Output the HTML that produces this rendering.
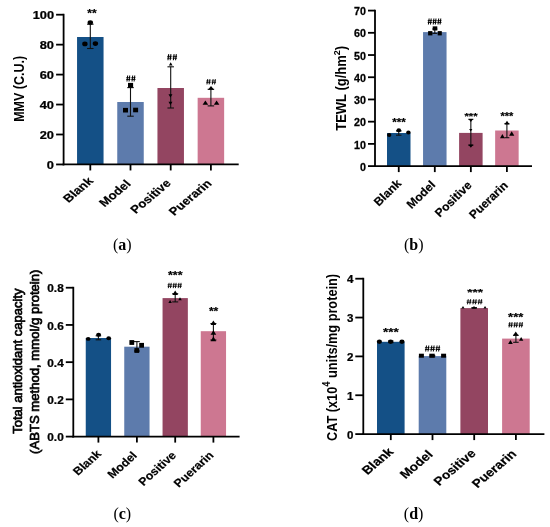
<!DOCTYPE html>
<html><head><meta charset="utf-8"><style>
html,body{margin:0;padding:0;background:#fff;}
body{width:550px;height:527px;overflow:hidden;}
svg{display:block;font-family:"Liberation Sans", sans-serif;will-change:transform;filter:blur(0.35px);}
</style></head><body>
<svg width="550" height="527" viewBox="0 0 550 527">
<rect width="550" height="527" fill="#fff"/>
<rect x="77.05" y="37.00" width="26.50" height="127.45" fill="#145086"/>
<rect x="117.25" y="102.00" width="26.50" height="62.45" fill="#5d7bac"/>
<rect x="157.45" y="88.00" width="26.50" height="76.45" fill="#934561"/>
<rect x="197.65" y="97.80" width="26.50" height="66.65" fill="#cd7791"/>
<line x1="63.6" y1="13.80" x2="63.6" y2="165.35" stroke="#000" stroke-width="1.8"/>
<line x1="56.10" y1="164.45" x2="63.6" y2="164.45" stroke="#000" stroke-width="1.8"/>
<text transform="translate(54.00,169.12) scale(1.22,1)" text-anchor="end" font-size="10.5" font-weight="bold" stroke="#000" stroke-width="0.25">0</text>
<line x1="56.10" y1="134.50" x2="63.6" y2="134.50" stroke="#000" stroke-width="1.8"/>
<text transform="translate(54.00,139.18) scale(1.22,1)" text-anchor="end" font-size="10.5" font-weight="bold" stroke="#000" stroke-width="0.25">20</text>
<line x1="56.10" y1="104.55" x2="63.6" y2="104.55" stroke="#000" stroke-width="1.8"/>
<text transform="translate(54.00,109.22) scale(1.22,1)" text-anchor="end" font-size="10.5" font-weight="bold" stroke="#000" stroke-width="0.25">40</text>
<line x1="56.10" y1="74.60" x2="63.6" y2="74.60" stroke="#000" stroke-width="1.8"/>
<text transform="translate(54.00,79.27) scale(1.22,1)" text-anchor="end" font-size="10.5" font-weight="bold" stroke="#000" stroke-width="0.25">60</text>
<line x1="56.10" y1="44.65" x2="63.6" y2="44.65" stroke="#000" stroke-width="1.8"/>
<text transform="translate(54.00,49.32) scale(1.22,1)" text-anchor="end" font-size="10.5" font-weight="bold" stroke="#000" stroke-width="0.25">80</text>
<line x1="56.10" y1="14.70" x2="63.6" y2="14.70" stroke="#000" stroke-width="1.8"/>
<text transform="translate(54.00,19.37) scale(1.22,1)" text-anchor="end" font-size="10.5" font-weight="bold" stroke="#000" stroke-width="0.25">100</text>
<line x1="62.70" y1="164.45" x2="238.7" y2="164.45" stroke="#000" stroke-width="1.8"/>
<line x1="90.30" y1="164.45" x2="90.30" y2="170.45" stroke="#000" stroke-width="1.8"/>
<line x1="130.50" y1="164.45" x2="130.50" y2="170.45" stroke="#000" stroke-width="1.8"/>
<line x1="170.70" y1="164.45" x2="170.70" y2="170.45" stroke="#000" stroke-width="1.8"/>
<line x1="210.90" y1="164.45" x2="210.90" y2="170.45" stroke="#000" stroke-width="1.8"/>
<line x1="90.30" y1="24.20" x2="90.30" y2="48.50" stroke="#111" stroke-width="1.1"/>
<line x1="87.05" y1="48.50" x2="93.55" y2="48.50" stroke="#111" stroke-width="1.1"/>
<line x1="87.05" y1="24.20" x2="93.55" y2="24.20" stroke="#111" stroke-width="1.1"/>
<ellipse cx="90.30" cy="22.50" rx="2.7" ry="2.3" fill="#000"/>
<ellipse cx="84.90" cy="43.90" rx="2.7" ry="2.3" fill="#000"/>
<ellipse cx="95.40" cy="43.60" rx="2.7" ry="2.3" fill="#000"/>
<text transform="translate(91.97,17.21) scale(1.140,1)" text-anchor="middle" font-size="10.48" font-weight="bold" stroke="#000" stroke-width="0.2">**</text>
<line x1="130.50" y1="87.60" x2="130.50" y2="116.20" stroke="#111" stroke-width="1.1"/>
<line x1="127.25" y1="116.20" x2="133.75" y2="116.20" stroke="#111" stroke-width="1.1"/>
<line x1="127.25" y1="87.60" x2="133.75" y2="87.60" stroke="#111" stroke-width="1.1"/>
<rect x="128.00" y="82.90" width="5.1" height="4.8" fill="#000"/>
<rect x="123.00" y="107.90" width="5.0" height="4.6" fill="#000"/>
<rect x="133.10" y="107.70" width="5.0" height="4.6" fill="#000"/>
<path d="M126.96,81.55L127.68,75.55M129.03,81.55L129.75,75.55M132.00,81.55L132.72,75.55M134.07,81.55L134.79,75.55" stroke="#000" stroke-width="1.02" fill="none"/>
<path d="M126.28,77.71H130.42M126.28,79.51H130.42M131.33,77.71H135.47M131.33,79.51H135.47" stroke="#000" stroke-width="0.90" fill="none"/>
<line x1="170.70" y1="66.80" x2="170.70" y2="108.00" stroke="#111" stroke-width="1.1"/>
<line x1="167.45" y1="108.00" x2="173.95" y2="108.00" stroke="#111" stroke-width="1.1"/>
<line x1="167.45" y1="66.80" x2="173.95" y2="66.80" stroke="#111" stroke-width="1.1"/>
<polygon points="168.90,65.50 172.50,65.50 170.70,62.30" fill="#000"/>
<polygon points="168.45,94.25 172.45,94.25 170.45,97.55" fill="#000"/>
<polygon points="168.45,101.65 172.45,101.65 170.45,104.95" fill="#000"/>
<path d="M167.96,60.25L168.73,54.15M170.18,60.25L170.95,54.15M173.35,60.25L174.12,54.15M175.57,60.25L176.34,54.15" stroke="#000" stroke-width="1.04" fill="none"/>
<path d="M167.24,56.35H171.67M167.24,58.18H171.67M172.63,56.35H177.06M172.63,58.18H177.06" stroke="#000" stroke-width="0.92" fill="none"/>
<line x1="210.90" y1="89.30" x2="210.90" y2="105.90" stroke="#111" stroke-width="1.1"/>
<line x1="207.65" y1="105.90" x2="214.15" y2="105.90" stroke="#111" stroke-width="1.1"/>
<line x1="207.65" y1="89.30" x2="214.15" y2="89.30" stroke="#111" stroke-width="1.1"/>
<polygon points="208.00,89.70 214.00,89.70 211.00,85.90" fill="#000"/>
<polygon points="202.60,104.70 208.20,104.70 205.40,100.50" fill="#000"/>
<polygon points="213.80,104.70 219.40,104.70 216.60,100.50" fill="#000"/>
<path d="M206.96,84.45L207.73,79.05M209.18,84.45L209.95,79.05M212.35,84.45L213.12,79.05M214.57,84.45L215.34,79.05" stroke="#000" stroke-width="0.92" fill="none"/>
<path d="M206.24,80.99H210.67M206.24,82.61H210.67M211.63,80.99H216.06M211.63,82.61H216.06" stroke="#000" stroke-width="0.81" fill="none"/>
<text transform="translate(94.00,181.70) scale(1.185,1) rotate(-45)" text-anchor="end" font-size="11.2" font-weight="bold" stroke="#000" stroke-width="0.2">Blank</text>
<text transform="translate(131.50,184.60) scale(1.185,1) rotate(-45)" text-anchor="end" font-size="11.2" font-weight="bold" stroke="#000" stroke-width="0.2">Model</text>
<text transform="translate(171.80,183.90) scale(1.185,1) rotate(-45)" text-anchor="end" font-size="11.2" font-weight="bold" stroke="#000" stroke-width="0.2">Positive</text>
<text transform="translate(212.40,184.10) scale(1.185,1) rotate(-45)" text-anchor="end" font-size="11.2" font-weight="bold" stroke="#000" stroke-width="0.2">Puerarin</text>
<text transform="translate(23.90,88.85) scale(1.12,1) rotate(-90)" text-anchor="middle" font-size="12.5" font-weight="bold">MMV (C.U.)</text>
<text x="122.30" y="249.70" text-anchor="middle" font-family='"Liberation Serif", serif' font-size="16">(<tspan font-weight="bold">a</tspan>)</text>
<rect x="387.00" y="133.00" width="23.50" height="33.10" fill="#145086"/>
<rect x="423.05" y="32.10" width="23.50" height="134.00" fill="#5d7bac"/>
<rect x="459.10" y="132.90" width="23.50" height="33.20" fill="#934561"/>
<rect x="495.15" y="130.50" width="23.50" height="35.60" fill="#cd7791"/>
<line x1="375.0" y1="9.69" x2="375.0" y2="167.00" stroke="#000" stroke-width="1.8"/>
<line x1="368.00" y1="166.10" x2="375.0" y2="166.10" stroke="#000" stroke-width="1.8"/>
<text transform="translate(365.90,170.78) scale(1.02,1)" text-anchor="end" font-size="10.5" font-weight="bold" stroke="#000" stroke-width="0.25">0</text>
<line x1="368.00" y1="143.88" x2="375.0" y2="143.88" stroke="#000" stroke-width="1.8"/>
<text transform="translate(365.90,148.56) scale(1.02,1)" text-anchor="end" font-size="10.5" font-weight="bold" stroke="#000" stroke-width="0.25">10</text>
<line x1="368.00" y1="121.67" x2="375.0" y2="121.67" stroke="#000" stroke-width="1.8"/>
<text transform="translate(365.90,126.34) scale(1.02,1)" text-anchor="end" font-size="10.5" font-weight="bold" stroke="#000" stroke-width="0.25">20</text>
<line x1="368.00" y1="99.45" x2="375.0" y2="99.45" stroke="#000" stroke-width="1.8"/>
<text transform="translate(365.90,104.13) scale(1.02,1)" text-anchor="end" font-size="10.5" font-weight="bold" stroke="#000" stroke-width="0.25">30</text>
<line x1="368.00" y1="77.24" x2="375.0" y2="77.24" stroke="#000" stroke-width="1.8"/>
<text transform="translate(365.90,81.92) scale(1.02,1)" text-anchor="end" font-size="10.5" font-weight="bold" stroke="#000" stroke-width="0.25">40</text>
<line x1="368.00" y1="55.03" x2="375.0" y2="55.03" stroke="#000" stroke-width="1.8"/>
<text transform="translate(365.90,59.70) scale(1.02,1)" text-anchor="end" font-size="10.5" font-weight="bold" stroke="#000" stroke-width="0.25">50</text>
<line x1="368.00" y1="32.81" x2="375.0" y2="32.81" stroke="#000" stroke-width="1.8"/>
<text transform="translate(365.90,37.48) scale(1.02,1)" text-anchor="end" font-size="10.5" font-weight="bold" stroke="#000" stroke-width="0.25">60</text>
<line x1="368.00" y1="10.59" x2="375.0" y2="10.59" stroke="#000" stroke-width="1.8"/>
<text transform="translate(365.90,15.27) scale(1.02,1)" text-anchor="end" font-size="10.5" font-weight="bold" stroke="#000" stroke-width="0.25">70</text>
<line x1="374.10" y1="166.1" x2="532.0" y2="166.1" stroke="#000" stroke-width="1.8"/>
<line x1="398.75" y1="166.1" x2="398.75" y2="172.10" stroke="#000" stroke-width="1.8"/>
<line x1="434.80" y1="166.1" x2="434.80" y2="172.10" stroke="#000" stroke-width="1.8"/>
<line x1="470.85" y1="166.1" x2="470.85" y2="172.10" stroke="#000" stroke-width="1.8"/>
<line x1="506.90" y1="166.1" x2="506.90" y2="172.10" stroke="#000" stroke-width="1.8"/>
<line x1="398.75" y1="131.00" x2="398.75" y2="135.20" stroke="#111" stroke-width="1.1"/>
<line x1="396.00" y1="135.20" x2="401.50" y2="135.20" stroke="#111" stroke-width="1.1"/>
<line x1="396.00" y1="131.00" x2="401.50" y2="131.00" stroke="#111" stroke-width="1.1"/>
<ellipse cx="389.20" cy="135.00" rx="2.2" ry="2.05" fill="#000"/>
<ellipse cx="398.80" cy="130.30" rx="2.3" ry="2.05" fill="#000"/>
<ellipse cx="408.40" cy="132.50" rx="2.2" ry="2.1" fill="#000"/>
<text transform="translate(398.95,126.40) scale(1.080,1)" text-anchor="middle" font-size="10.75" font-weight="bold" stroke="#000" stroke-width="0.2">***</text>
<line x1="434.80" y1="29.00" x2="434.80" y2="33.40" stroke="#111" stroke-width="1.1"/>
<line x1="432.30" y1="33.40" x2="437.30" y2="33.40" stroke="#111" stroke-width="1.1"/>
<line x1="432.30" y1="29.00" x2="437.30" y2="29.00" stroke="#111" stroke-width="1.1"/>
<rect x="432.70" y="26.35" width="4.6" height="4.1" fill="#000"/>
<rect x="428.10" y="31.10" width="4.3" height="4.3" fill="#000"/>
<rect x="437.70" y="31.10" width="4.1" height="4.3" fill="#000"/>
<path d="M428.41,24.55L429.13,18.45M430.49,24.55L431.21,18.45M433.20,24.55L433.92,18.45M435.28,24.55L436.00,18.45M437.99,24.55L438.71,18.45M440.07,24.55L440.79,18.45" stroke="#000" stroke-width="1.04" fill="none"/>
<path d="M427.73,20.65H431.89M427.73,22.48H431.89M432.52,20.65H436.68M432.52,22.48H436.68M437.31,20.65H441.47M437.31,22.48H441.47" stroke="#000" stroke-width="0.91" fill="none"/>
<line x1="470.85" y1="119.30" x2="470.85" y2="145.30" stroke="#111" stroke-width="1.1"/>
<line x1="468.35" y1="145.30" x2="473.35" y2="145.30" stroke="#111" stroke-width="1.1"/>
<line x1="468.35" y1="119.30" x2="473.35" y2="119.30" stroke="#111" stroke-width="1.1"/>
<polygon points="468.55,118.90 473.15,118.90 470.85,121.90" fill="#000"/>
<polygon points="469.15,128.90 472.35,128.90 470.75,131.50" fill="#000"/>
<polygon points="468.25,144.60 473.45,144.60 470.85,147.80" fill="#000"/>
<text transform="translate(471.05,119.44) scale(1.132,1)" text-anchor="middle" font-size="9.95" font-weight="bold" stroke="#000" stroke-width="0.2">***</text>
<line x1="506.90" y1="123.60" x2="506.90" y2="137.70" stroke="#111" stroke-width="1.1"/>
<line x1="504.40" y1="137.70" x2="509.40" y2="137.70" stroke="#111" stroke-width="1.1"/>
<line x1="504.40" y1="123.60" x2="509.40" y2="123.60" stroke="#111" stroke-width="1.1"/>
<polygon points="504.50,124.50 509.50,124.50 507.00,120.70" fill="#000"/>
<polygon points="500.00,138.30 504.80,138.30 502.40,134.10" fill="#000"/>
<polygon points="509.10,135.75 514.30,135.75 511.70,131.25" fill="#000"/>
<text transform="translate(506.95,120.07) scale(0.982,1)" text-anchor="middle" font-size="11.29" font-weight="bold" stroke="#000" stroke-width="0.2">***</text>
<text transform="translate(401.90,184.20) scale(1.03,1) rotate(-45)" text-anchor="end" font-size="11.7" font-weight="bold" stroke="#000" stroke-width="0.2">Blank</text>
<text transform="translate(436.15,185.50) scale(1.03,1) rotate(-45)" text-anchor="end" font-size="11.7" font-weight="bold" stroke="#000" stroke-width="0.2">Model</text>
<text transform="translate(472.40,186.00) scale(1.03,1) rotate(-45)" text-anchor="end" font-size="11.7" font-weight="bold" stroke="#000" stroke-width="0.2">Positive</text>
<text transform="translate(508.65,186.10) scale(1.03,1) rotate(-45)" text-anchor="end" font-size="11.7" font-weight="bold" stroke="#000" stroke-width="0.2">Puerarin</text>
<text transform="translate(346.00,88.30) scale(1.08,1) rotate(-90)" text-anchor="middle" font-size="13.0" font-weight="bold">TEWL (g/hm<tspan dy="-5.5" font-size="9">2</tspan><tspan dy="5.5">)</tspan></text>
<text x="413.70" y="250.00" text-anchor="middle" font-family='"Liberation Serif", serif' font-size="16">(<tspan font-weight="bold">b</tspan>)</text>
<rect x="85.75" y="338.00" width="25.30" height="98.60" fill="#145086"/>
<rect x="124.25" y="346.70" width="25.30" height="89.90" fill="#5d7bac"/>
<rect x="162.55" y="298.10" width="25.30" height="138.50" fill="#934561"/>
<rect x="200.75" y="331.20" width="25.30" height="105.40" fill="#cd7791"/>
<line x1="73.3" y1="286.82" x2="73.3" y2="437.50" stroke="#000" stroke-width="1.8"/>
<line x1="65.80" y1="436.60" x2="73.3" y2="436.60" stroke="#000" stroke-width="1.8"/>
<text transform="translate(63.70,441.28) scale(1.125,1)" text-anchor="end" font-size="10.5" font-weight="bold" stroke="#000" stroke-width="0.25">0.0</text>
<line x1="65.80" y1="399.38" x2="73.3" y2="399.38" stroke="#000" stroke-width="1.8"/>
<text transform="translate(63.70,404.06) scale(1.125,1)" text-anchor="end" font-size="10.5" font-weight="bold" stroke="#000" stroke-width="0.25">0.2</text>
<line x1="65.80" y1="362.16" x2="73.3" y2="362.16" stroke="#000" stroke-width="1.8"/>
<text transform="translate(63.70,366.84) scale(1.125,1)" text-anchor="end" font-size="10.5" font-weight="bold" stroke="#000" stroke-width="0.25">0.4</text>
<line x1="65.80" y1="324.94" x2="73.3" y2="324.94" stroke="#000" stroke-width="1.8"/>
<text transform="translate(63.70,329.62) scale(1.125,1)" text-anchor="end" font-size="10.5" font-weight="bold" stroke="#000" stroke-width="0.25">0.6</text>
<line x1="65.80" y1="287.72" x2="73.3" y2="287.72" stroke="#000" stroke-width="1.8"/>
<text transform="translate(63.70,292.40) scale(1.125,1)" text-anchor="end" font-size="10.5" font-weight="bold" stroke="#000" stroke-width="0.25">0.8</text>
<line x1="72.40" y1="436.6" x2="239.6" y2="436.6" stroke="#000" stroke-width="1.8"/>
<line x1="98.40" y1="436.6" x2="98.40" y2="442.60" stroke="#000" stroke-width="1.8"/>
<line x1="136.90" y1="436.6" x2="136.90" y2="442.60" stroke="#000" stroke-width="1.8"/>
<line x1="175.20" y1="436.6" x2="175.20" y2="442.60" stroke="#000" stroke-width="1.8"/>
<line x1="213.40" y1="436.6" x2="213.40" y2="442.60" stroke="#000" stroke-width="1.8"/>
<line x1="98.40" y1="335.80" x2="98.40" y2="339.80" stroke="#111" stroke-width="1.1"/>
<line x1="95.65" y1="339.80" x2="101.15" y2="339.80" stroke="#111" stroke-width="1.1"/>
<line x1="95.65" y1="335.80" x2="101.15" y2="335.80" stroke="#111" stroke-width="1.1"/>
<ellipse cx="88.20" cy="338.90" rx="2.35" ry="1.95" fill="#000"/>
<ellipse cx="98.60" cy="334.80" rx="2.45" ry="1.95" fill="#000"/>
<ellipse cx="108.70" cy="338.20" rx="2.35" ry="2.0" fill="#000"/>
<line x1="136.90" y1="341.60" x2="136.90" y2="351.00" stroke="#111" stroke-width="1.1"/>
<line x1="134.00" y1="351.00" x2="139.80" y2="351.00" stroke="#111" stroke-width="1.1"/>
<line x1="134.00" y1="341.60" x2="139.80" y2="341.60" stroke="#111" stroke-width="1.1"/>
<rect x="129.40" y="340.10" width="4.8" height="4.8" fill="#000"/>
<rect x="139.20" y="342.90" width="4.8" height="4.8" fill="#000"/>
<rect x="134.40" y="348.10" width="4.8" height="4.8" fill="#000"/>
<line x1="175.20" y1="293.70" x2="175.20" y2="301.90" stroke="#111" stroke-width="1.1"/>
<line x1="172.20" y1="301.90" x2="178.20" y2="301.90" stroke="#111" stroke-width="1.1"/>
<line x1="172.20" y1="293.70" x2="178.20" y2="293.70" stroke="#111" stroke-width="1.1"/>
<polygon points="172.40,295.10 178.00,295.10 175.20,290.50" fill="#000"/>
<polygon points="168.35,303.00 171.85,303.00 170.10,300.00" fill="#000"/>
<polygon points="178.25,300.30 181.75,300.30 180.00,297.30" fill="#000"/>
<text transform="translate(175.25,279.28) scale(1.131,1)" text-anchor="middle" font-size="11.02" font-weight="bold" stroke="#000" stroke-width="0.2">***</text>
<path d="M168.33,288.15L169.08,282.85M170.47,288.15L171.21,282.85M173.26,288.15L174.00,282.85M175.40,288.15L176.14,282.85M178.19,288.15L178.93,282.85M180.32,288.15L181.07,282.85" stroke="#000" stroke-width="0.90" fill="none"/>
<path d="M167.64,284.76H171.91M167.64,286.35H171.91M172.56,284.76H176.84M172.56,286.35H176.84M177.49,284.76H181.76M177.49,286.35H181.76" stroke="#000" stroke-width="0.80" fill="none"/>
<line x1="213.40" y1="323.50" x2="213.40" y2="340.00" stroke="#111" stroke-width="1.1"/>
<line x1="210.40" y1="340.00" x2="216.40" y2="340.00" stroke="#111" stroke-width="1.1"/>
<line x1="210.40" y1="323.50" x2="216.40" y2="323.50" stroke="#111" stroke-width="1.1"/>
<polygon points="210.60,325.10 216.20,325.10 213.40,320.50" fill="#000"/>
<polygon points="210.60,334.80 216.20,334.80 213.40,330.20" fill="#000"/>
<polygon points="210.60,341.20 216.20,341.20 213.40,336.60" fill="#000"/>
<text transform="translate(213.60,315.38) scale(1.102,1)" text-anchor="middle" font-size="11.02" font-weight="bold" stroke="#000" stroke-width="0.2">**</text>
<text transform="translate(101.90,454.55) scale(1.107,1) rotate(-45)" text-anchor="end" font-size="11.2" font-weight="bold" stroke="#000" stroke-width="0.2">Blank</text>
<text transform="translate(137.80,456.25) scale(1.107,1) rotate(-45)" text-anchor="end" font-size="11.2" font-weight="bold" stroke="#000" stroke-width="0.2">Model</text>
<text transform="translate(177.00,456.05) scale(1.107,1) rotate(-45)" text-anchor="end" font-size="11.2" font-weight="bold" stroke="#000" stroke-width="0.2">Positive</text>
<text transform="translate(214.40,455.85) scale(1.107,1) rotate(-45)" text-anchor="end" font-size="11.2" font-weight="bold" stroke="#000" stroke-width="0.2">Puerarin</text>
<text transform="translate(21.70,361.20) scale(1.0,1) rotate(-90)" text-anchor="middle" font-size="13.0" font-weight="normal" stroke="#000" stroke-width="0.7">Total antioxidant capacity</text>
<text transform="translate(38.80,361.75) scale(1.0,1) rotate(-90)" text-anchor="middle" font-size="13.12" font-weight="normal" stroke="#000" stroke-width="0.7">(ABTS method, mmol/g protein)</text>
<text x="122.30" y="518.60" text-anchor="middle" font-family='"Liberation Serif", serif' font-size="16">(<tspan font-weight="bold">c</tspan>)</text>
<rect x="377.00" y="341.80" width="27.60" height="92.30" fill="#145086"/>
<rect x="418.70" y="356.10" width="27.60" height="78.00" fill="#5d7bac"/>
<rect x="460.40" y="308.10" width="27.60" height="126.00" fill="#934561"/>
<rect x="502.10" y="338.60" width="27.60" height="95.50" fill="#cd7791"/>
<line x1="363.3" y1="277.80" x2="363.3" y2="435.00" stroke="#000" stroke-width="1.8"/>
<line x1="355.30" y1="434.10" x2="363.3" y2="434.10" stroke="#000" stroke-width="1.8"/>
<text transform="translate(353.40,438.78) scale(1.1,1)" text-anchor="end" font-size="10.5" font-weight="bold" stroke="#000" stroke-width="0.25">0</text>
<line x1="355.30" y1="395.25" x2="363.3" y2="395.25" stroke="#000" stroke-width="1.8"/>
<text transform="translate(353.40,399.93) scale(1.1,1)" text-anchor="end" font-size="10.5" font-weight="bold" stroke="#000" stroke-width="0.25">1</text>
<line x1="355.30" y1="356.40" x2="363.3" y2="356.40" stroke="#000" stroke-width="1.8"/>
<text transform="translate(353.40,361.08) scale(1.1,1)" text-anchor="end" font-size="10.5" font-weight="bold" stroke="#000" stroke-width="0.25">2</text>
<line x1="355.30" y1="317.55" x2="363.3" y2="317.55" stroke="#000" stroke-width="1.8"/>
<text transform="translate(353.40,322.23) scale(1.1,1)" text-anchor="end" font-size="10.5" font-weight="bold" stroke="#000" stroke-width="0.25">3</text>
<line x1="355.30" y1="278.70" x2="363.3" y2="278.70" stroke="#000" stroke-width="1.8"/>
<text transform="translate(353.40,283.38) scale(1.1,1)" text-anchor="end" font-size="10.5" font-weight="bold" stroke="#000" stroke-width="0.25">4</text>
<line x1="362.40" y1="434.1" x2="544.4" y2="434.1" stroke="#000" stroke-width="1.8"/>
<line x1="390.80" y1="434.1" x2="390.80" y2="440.10" stroke="#000" stroke-width="1.8"/>
<line x1="432.50" y1="434.1" x2="432.50" y2="440.10" stroke="#000" stroke-width="1.8"/>
<line x1="474.20" y1="434.1" x2="474.20" y2="440.10" stroke="#000" stroke-width="1.8"/>
<line x1="515.90" y1="434.1" x2="515.90" y2="440.10" stroke="#000" stroke-width="1.8"/>
<line x1="390.80" y1="341.00" x2="390.80" y2="342.60" stroke="#111" stroke-width="1.1"/>
<line x1="388.05" y1="342.60" x2="393.55" y2="342.60" stroke="#111" stroke-width="1.1"/>
<line x1="388.05" y1="341.00" x2="393.55" y2="341.00" stroke="#111" stroke-width="1.1"/>
<ellipse cx="379.40" cy="341.75" rx="2.6" ry="2.15" fill="#000"/>
<ellipse cx="390.65" cy="341.75" rx="2.6" ry="2.15" fill="#000"/>
<ellipse cx="401.95" cy="341.75" rx="2.6" ry="2.15" fill="#000"/>
<text transform="translate(390.85,335.54) scale(1.141,1)" text-anchor="middle" font-size="11.83" font-weight="bold" stroke="#000" stroke-width="0.2">***</text>
<line x1="432.50" y1="355.40" x2="432.50" y2="356.80" stroke="#111" stroke-width="1.1"/>
<line x1="429.75" y1="356.80" x2="435.25" y2="356.80" stroke="#111" stroke-width="1.1"/>
<line x1="429.75" y1="355.40" x2="435.25" y2="355.40" stroke="#111" stroke-width="1.1"/>
<rect x="418.90" y="353.70" width="5.0" height="4.0" fill="#000"/>
<rect x="429.30" y="353.70" width="5.4" height="4.0" fill="#000"/>
<rect x="441.10" y="353.70" width="5.0" height="4.0" fill="#000"/>
<path d="M425.70,351.55L426.50,345.55M428.00,351.55L428.80,345.55M431.00,351.55L431.80,345.55M433.30,351.55L434.10,345.55M436.30,351.55L437.10,345.55M438.60,351.55L439.40,345.55" stroke="#000" stroke-width="1.02" fill="none"/>
<path d="M424.95,347.71H429.55M424.95,349.51H429.55M430.25,347.71H434.85M430.25,349.51H434.85M435.55,347.71H440.15M435.55,349.51H440.15" stroke="#000" stroke-width="0.90" fill="none"/>
<line x1="474.20" y1="307.60" x2="474.20" y2="308.20" stroke="#111" stroke-width="1.1"/>
<line x1="471.45" y1="308.20" x2="476.95" y2="308.20" stroke="#111" stroke-width="1.1"/>
<line x1="471.45" y1="307.60" x2="476.95" y2="307.60" stroke="#111" stroke-width="1.1"/>
<polygon points="461.40,308.50 464.60,308.50 463.00,305.90" fill="#000"/>
<polygon points="471.90,308.50 476.10,308.50 474.00,305.90" fill="#000"/>
<polygon points="483.45,308.50 486.65,308.50 485.05,305.90" fill="#000"/>
<text transform="translate(475.15,294.86) scale(1.395,1)" text-anchor="middle" font-size="9.68" font-weight="bold" stroke="#000" stroke-width="0.2">***</text>
<path d="M467.44,304.35L468.27,299.15M469.83,304.35L470.66,299.15M472.94,304.35L473.77,299.15M475.33,304.35L476.16,299.15M478.44,304.35L479.28,299.15M480.83,304.35L481.66,299.15" stroke="#000" stroke-width="0.90" fill="none"/>
<path d="M466.66,301.02H471.43M466.66,302.58H471.43M472.16,301.02H476.94M472.16,302.58H476.94M477.67,301.02H482.44M477.67,302.58H482.44" stroke="#000" stroke-width="0.80" fill="none"/>
<line x1="515.90" y1="335.30" x2="515.90" y2="342.30" stroke="#111" stroke-width="1.1"/>
<line x1="513.15" y1="342.30" x2="518.65" y2="342.30" stroke="#111" stroke-width="1.1"/>
<line x1="513.15" y1="335.30" x2="518.65" y2="335.30" stroke="#111" stroke-width="1.1"/>
<polygon points="512.85,335.80 518.65,335.80 515.75,331.40" fill="#000"/>
<polygon points="508.10,344.10 512.80,344.10 510.45,340.10" fill="#000"/>
<polygon points="519.00,340.80 523.30,340.80 521.15,336.90" fill="#000"/>
<text transform="translate(515.70,321.23) scale(1.279,1)" text-anchor="middle" font-size="10.22" font-weight="bold" stroke="#000" stroke-width="0.2">***</text>
<path d="M509.07,327.45L509.84,322.05M511.30,327.45L512.07,322.05M514.20,327.45L514.97,322.05M516.43,327.45L517.20,322.05M519.33,327.45L520.10,322.05M521.56,327.45L522.33,322.05" stroke="#000" stroke-width="0.92" fill="none"/>
<path d="M508.34,323.99H512.80M508.34,325.61H512.80M513.47,323.99H517.93M513.47,325.61H517.93M518.60,323.99H523.06M518.60,325.61H523.06" stroke="#000" stroke-width="0.81" fill="none"/>
<text transform="translate(394.10,452.50) scale(1.168,1) rotate(-45)" text-anchor="end" font-size="11.8" font-weight="bold" stroke="#000" stroke-width="0.2">Blank</text>
<text transform="translate(433.60,455.30) scale(1.168,1) rotate(-45)" text-anchor="end" font-size="11.8" font-weight="bold" stroke="#000" stroke-width="0.2">Model</text>
<text transform="translate(476.60,454.20) scale(1.168,1) rotate(-45)" text-anchor="end" font-size="11.8" font-weight="bold" stroke="#000" stroke-width="0.2">Positive</text>
<text transform="translate(517.10,454.60) scale(1.168,1) rotate(-45)" text-anchor="end" font-size="11.8" font-weight="bold" stroke="#000" stroke-width="0.2">Puerarin</text>
<text transform="translate(336.50,357.50) scale(1.12,1) rotate(-90)" text-anchor="middle" font-size="12.75" font-weight="bold">CAT (x10<tspan dy="-5.6" font-size="9.5">4</tspan><tspan dy="5.6"> units/mg protein)</tspan></text>
<text x="413.60" y="518.60" text-anchor="middle" font-family='"Liberation Serif", serif' font-size="16">(<tspan font-weight="bold">d</tspan>)</text>
</svg>
</body></html>
